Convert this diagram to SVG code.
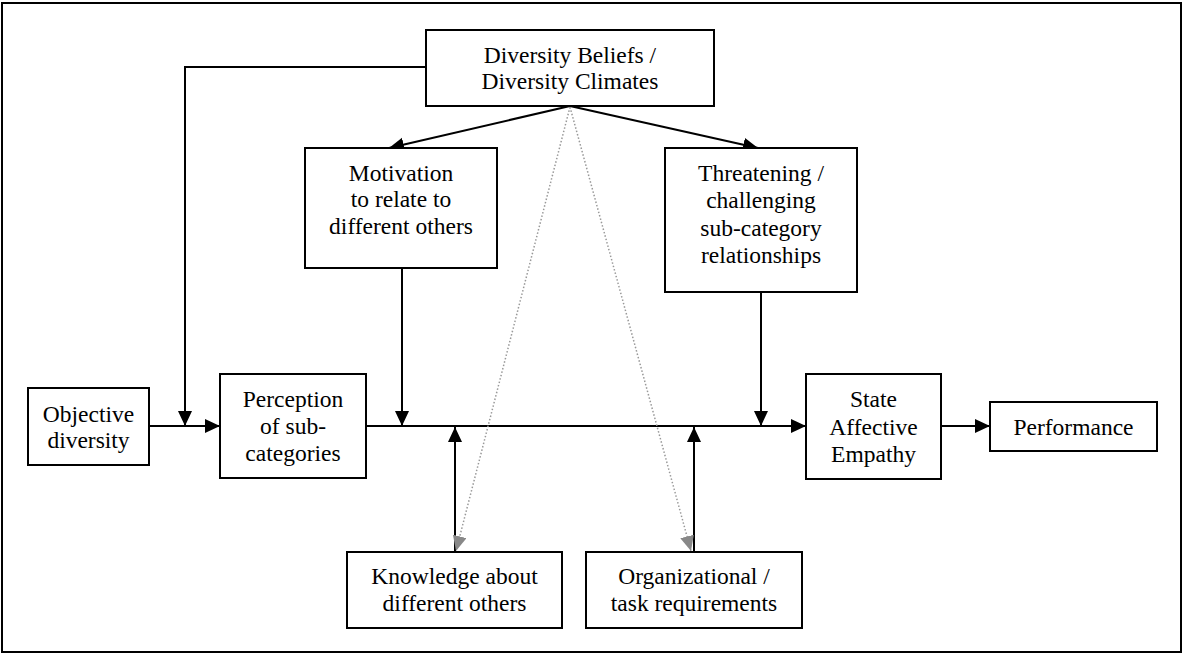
<svg xmlns="http://www.w3.org/2000/svg" width="1184" height="655" viewBox="0 0 1184 655">
<style>
.box{fill:#fff;stroke:#000;stroke-width:2}
.t{font-family:"Liberation Serif","Times New Roman",serif;font-size:23.5px;fill:#000;text-anchor:middle}
.c{fill:none;stroke:#000;stroke-width:2}
.d{fill:none;stroke:#999;stroke-width:1.5;stroke-dasharray:1.5 2}
</style>
<defs>
<marker id="ah" markerUnits="userSpaceOnUse" markerWidth="16" markerHeight="15" refX="15" refY="7" orient="auto"><path d="M0,0 L15,7 L0,14 z" fill="#000"/></marker>
<marker id="ag" markerUnits="userSpaceOnUse" markerWidth="16" markerHeight="15" refX="15" refY="7" orient="auto"><path d="M0,0 L15,7 L0,14 z" fill="#888"/></marker>
</defs>
<rect x="2" y="3" width="1179" height="649" fill="#fff" stroke="#000" stroke-width="2"/>
<g id="connectors">
<path class="c" d="M426,67 H185 V426" marker-end="url(#ah)"/>
<path class="c" d="M149,426 H220" marker-end="url(#ah)"/>
<path class="c" d="M570,106 L389,148" marker-end="url(#ah)"/>
<path class="c" d="M570,106 L758,148" marker-end="url(#ah)"/>
<path class="c" d="M402,268 V426" marker-end="url(#ah)"/>
<path class="c" d="M761,292 V426" marker-end="url(#ah)"/>
<path class="c" d="M366,426 H806" marker-end="url(#ah)"/>
<path class="c" d="M941,426 H990" marker-end="url(#ah)"/>
<path class="c" d="M455,552 V427" marker-end="url(#ah)"/>
<path class="c" d="M694,552 V427" marker-end="url(#ah)"/>
<path class="d" d="M570,107 L456,551" marker-end="url(#ag)"/>
<path class="d" d="M570,107 L691,551" marker-end="url(#ag)"/>
</g>
<g id="diversity">
<rect class="box" x="426" y="30" width="288" height="76"/>
<text class="t" x="570" y="63">Diversity Beliefs /</text>
<text class="t" x="570" y="89">Diversity Climates</text>
</g>
<g id="motivation">
<rect class="box" x="305" y="148" width="192" height="120"/>
<text class="t" x="401" y="181">Motivation</text>
<text class="t" x="401" y="207">to relate to</text>
<text class="t" x="401" y="234">different others</text>
</g>
<g id="threatening">
<rect class="box" x="665" y="148" width="192" height="144"/>
<text class="t" x="761" y="181">Threatening /</text>
<text class="t" x="761" y="208">challenging</text>
<text class="t" x="761" y="236">sub-category</text>
<text class="t" x="761" y="263">relationships</text>
</g>
<g id="objective">
<rect class="box" x="28" y="388" width="121" height="77"/>
<text class="t" x="88.5" y="422">Objective</text>
<text class="t" x="88.5" y="448">diversity</text>
</g>
<g id="perception">
<rect class="box" x="220" y="374" width="146" height="104"/>
<text class="t" x="293" y="407">Perception</text>
<text class="t" x="293" y="434">of sub-</text>
<text class="t" x="293" y="461">categories</text>
</g>
<g id="state">
<rect class="box" x="806" y="374" width="135" height="105"/>
<text class="t" x="873.5" y="407">State</text>
<text class="t" x="873.5" y="435">Affective</text>
<text class="t" x="873.5" y="462">Empathy</text>
</g>
<g id="performance">
<rect class="box" x="990" y="402" width="167" height="49"/>
<text class="t" x="1073.5" y="435">Performance</text>
</g>
<g id="knowledge">
<rect class="box" x="347" y="552" width="215" height="76"/>
<text class="t" x="454.5" y="584">Knowledge about</text>
<text class="t" x="454.5" y="611">different others</text>
</g>
<g id="organizational">
<rect class="box" x="586" y="552" width="216" height="76"/>
<text class="t" x="694" y="584">Organizational /</text>
<text class="t" x="694" y="611">task requirements</text>
</g>
</svg>
